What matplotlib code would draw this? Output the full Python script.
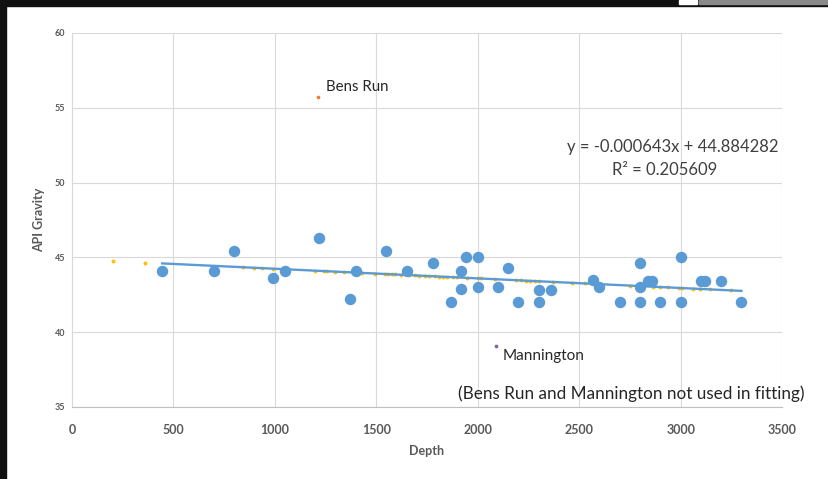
import matplotlib.pyplot as plt
from matplotlib.patches import Rectangle

# wells used in the fit
depth = [445, 700, 800, 990, 1050, 1220, 1370, 1400, 1550, 1650, 1780, 1870,
         1920, 1920, 1940, 2000, 2000, 2100, 2150, 2200, 2300, 2300, 2360, 2570,
         2600, 2700, 2800, 2800, 2800, 2840, 2860, 2900, 3000, 3000, 3100, 3120,
         3200, 3300]
gravity = [44.1, 44.1, 45.4, 43.6, 44.1, 46.3, 42.2, 44.1, 45.4, 44.1, 44.6, 42.0,
           42.9, 44.1, 45.0, 45.0, 43.0, 43.0, 44.3, 42.0, 42.85, 42.0, 42.85, 43.5,
           43.0, 42.0, 44.6, 43.0, 42.0, 43.45, 43.45, 42.0, 45.0, 42.0, 43.45, 43.45,
           43.45, 42.0]

# predicted values (yellow)
pred_depth = [200, 360, 845, 895, 935, 990, 1200, 1240, 1255, 1295, 1340, 1430,
              1495, 1545, 1560, 1575, 1590, 1620, 1660, 1690, 1710, 1740, 1760,
              1790, 1810, 1830, 1850, 1880, 1900, 1945, 2000, 2015, 2085, 2190,
              2215, 2240, 2260, 2280, 2300, 2370, 2465, 2530, 2580, 2750, 2865,
              2900, 2940, 2990, 3005, 3060, 3095, 3145, 3250]
pred_gravity = [44.76, 44.65, 44.34, 44.31, 44.28, 44.25, 44.11, 44.09, 44.08, 44.05,
                44.02, 43.96, 43.92, 43.89, 43.88, 43.87, 43.86, 43.84, 43.82, 43.80,
                43.79, 43.77, 43.75, 43.73, 43.72, 43.71, 43.69, 43.68, 43.66, 43.63,
                43.60, 43.59, 43.54, 43.48, 43.46, 43.44, 43.43, 43.42, 43.41, 43.36,
                43.30, 43.26, 43.23, 43.12, 43.04, 43.02, 42.99, 42.96, 42.95, 42.92,
                42.89, 42.86, 42.79]

bens_run = (1215, 55.7)
mannington = (2090, 39.1)

slope = -0.000643
intercept = 44.884282
r2 = 0.205609

plt.rcParams['font.family'] = ['Lato', 'DejaVu Sans']

fig = plt.figure(figsize=(8.29, 4.79), dpi=100)
ax = fig.add_axes([72/829, 1 - 407/479, 710/829, 374/479])

ax.scatter(depth, gravity, s=68, color='#5B9BD5', zorder=3, linewidths=0)
ax.scatter(pred_depth, pred_gravity, s=8, color='#FFC000', zorder=2, linewidths=0)
ax.scatter([bens_run[0]], [bens_run[1]], s=7, color='#ED7D31', zorder=3, linewidths=0)
ax.scatter([mannington[0]], [mannington[1]], s=7, color='#7F5FB0', zorder=3, linewidths=0)

x0, x1 = min(depth), max(depth)
ax.plot([x0, x1], [slope*x0 + intercept, slope*x1 + intercept],
        color='#5B9BD5', lw=1.7, zorder=2.5)

ax.set_xlim(0, 3500)
ax.set_ylim(35, 60)
ax.set_xticks(range(0, 3501, 500))
ax.set_yticks(range(35, 61, 5))
ax.grid(True, color='#d9d9d9', lw=0.8)
ax.set_axisbelow(True)
for s in ['top', 'right']:
    ax.spines[s].set_visible(False)
ax.spines['left'].set_color('#d9d9d9')
ax.spines['bottom'].set_color('#bfbfbf')
ax.tick_params(length=0)
ax.tick_params(axis='x', labelsize=9, labelcolor='#595959', pad=12)
ax.tick_params(axis='y', labelsize=6.5, labelcolor='#595959', pad=5)
for lab in ax.get_xticklabels() + ax.get_yticklabels():
    lab.set_fontweight('bold')

ax.set_xlabel('Depth', fontsize=9, fontweight='bold', color='#595959', labelpad=7)
ax.set_ylabel('API Gravity', fontsize=9, fontweight='bold', color='#595959', labelpad=7)

ax.text(1252, 56.4, 'Bens Run', fontsize=10.8, color='#262626', va='center')
ax.text(2124, 38.4, 'Mannington', fontsize=11, color='#262626', va='center')
ax.text(3484, 52.37, 'y = %.6fx + %.6f' % (slope, intercept), fontsize=12,
        color='#404040', ha='right', va='center')
ax.text(2923, 50.84, 'R² = %.6f' % r2, fontsize=12, color='#404040',
        ha='center', va='center')
ax.text(1902, 35.9, '(Bens Run and Mannington not used in fitting)', fontsize=12.3,
        color='#262626', va='center', clip_on=False)

# screenshot border
fig.patches.append(Rectangle((0, 1 - 6/479), 1, 6/479, transform=fig.transFigure,
                             color='#111111', zorder=10))
fig.patches.append(Rectangle((0, 0), 6/829, 1, transform=fig.transFigure,
                             color='#111111', zorder=10))
fig.patches.append(Rectangle((679/829, 1 - 4/479), 18/829, 4/479, transform=fig.transFigure,
                             color='white', zorder=11))
fig.patches.append(Rectangle((699/829, 1 - 4/479), 130/829, 4/479, transform=fig.transFigure,
                             color='#8a8a8a', zorder=11))

fig.savefig('out.png', dpi=100)
